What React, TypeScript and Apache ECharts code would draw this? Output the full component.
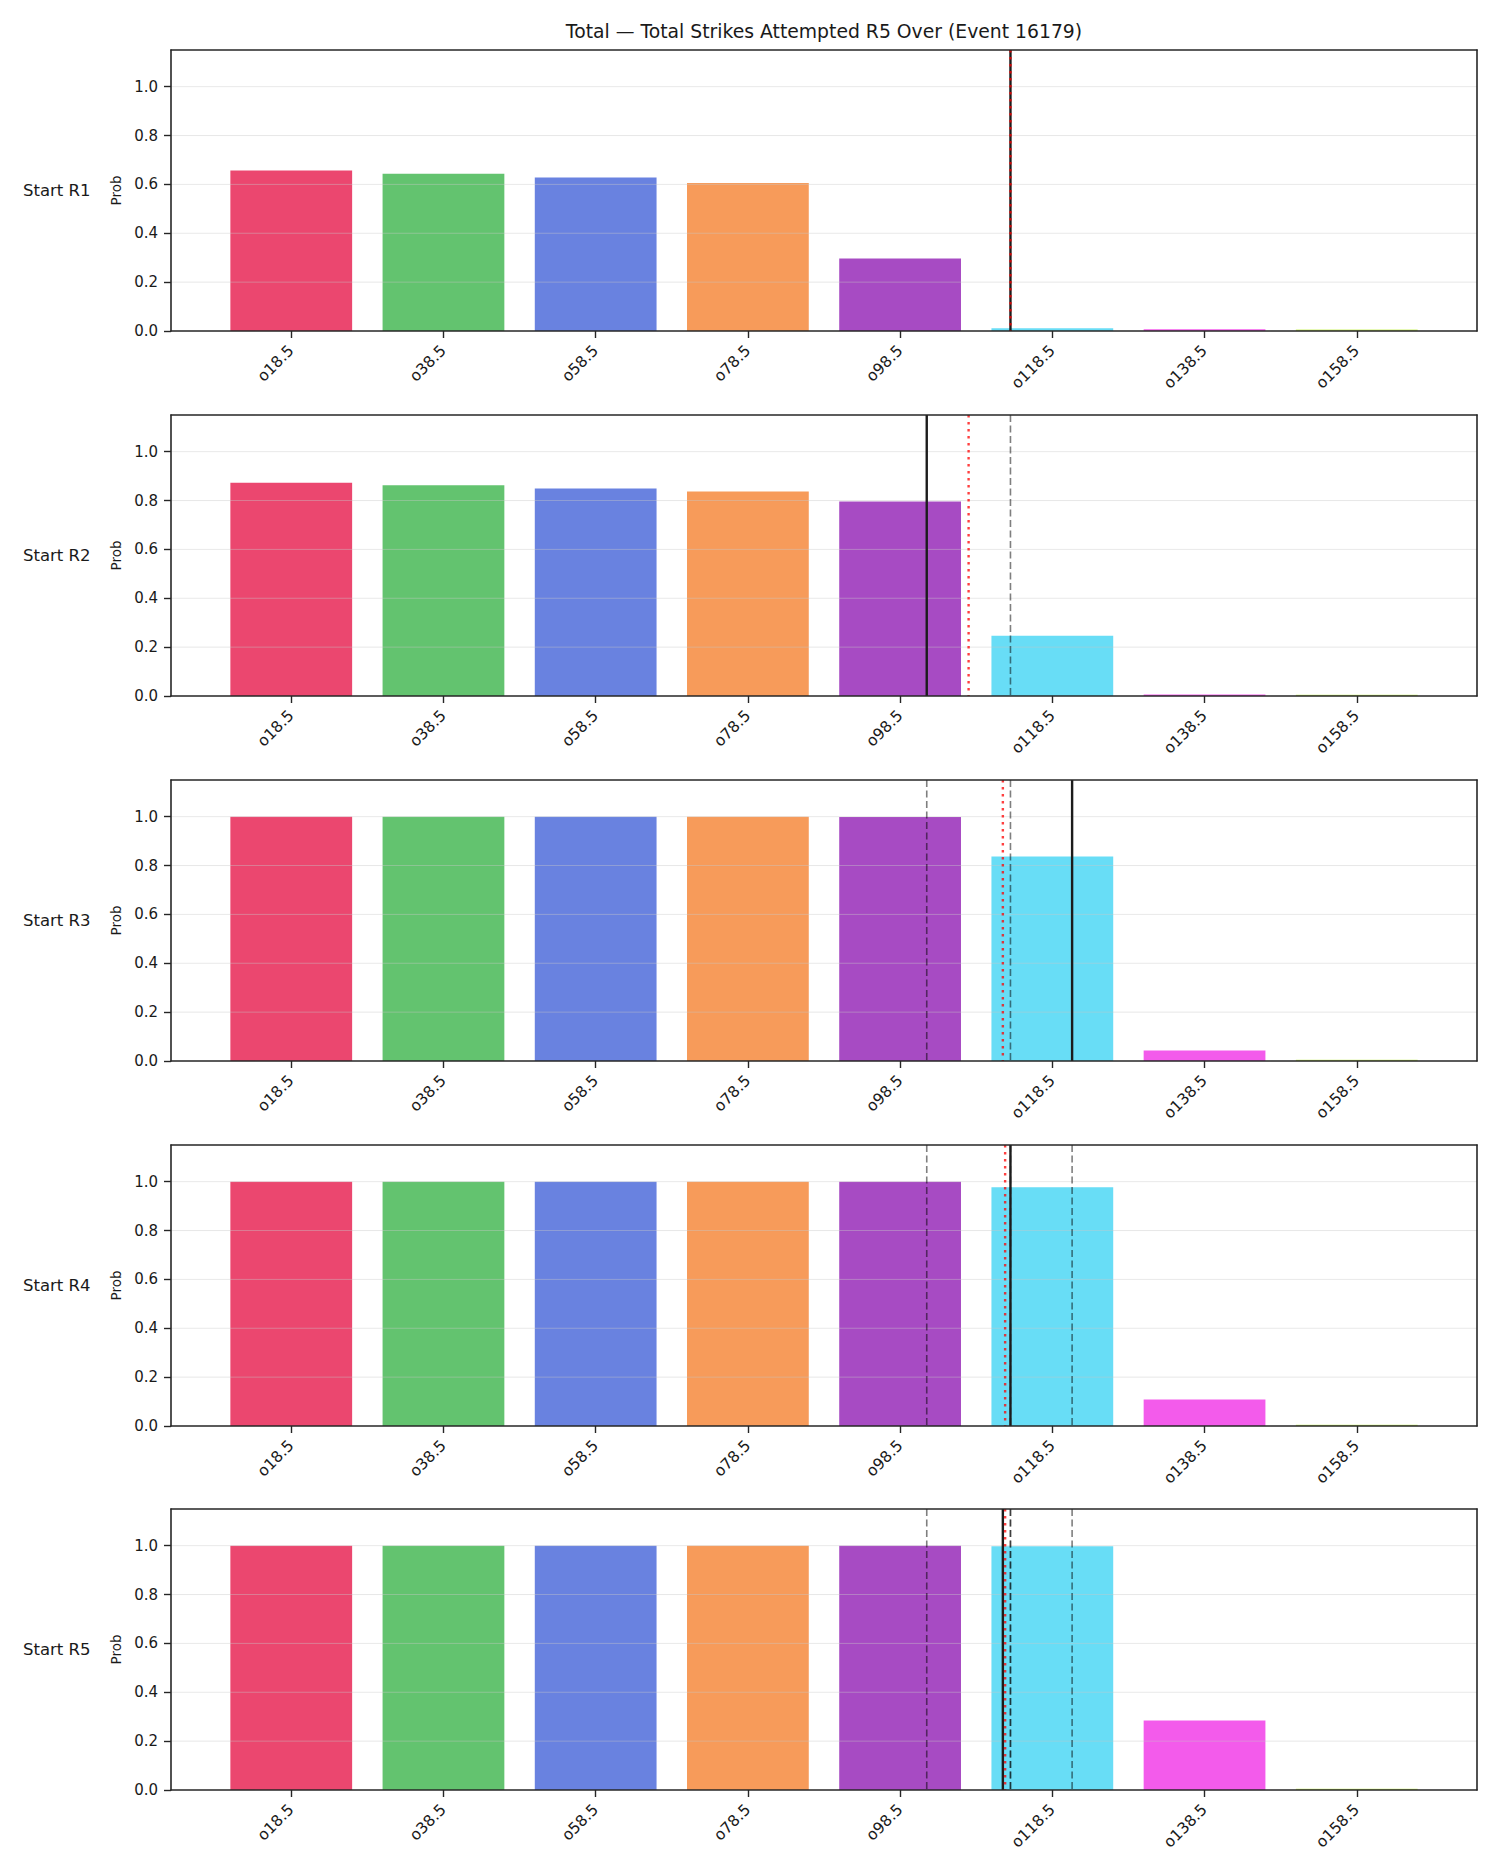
import React, { useEffect, useRef } from "react";
import * as echarts from "echarts";

// ---- data ----
const TITLE = "Total — Total Strikes Attempted R5 Over (Event 16179)";
const ROUND_LABELS = ["Start R1", "Start R2", "Start R3", "Start R4", "Start R5"];
const LINE_LABELS = ["o18.5", "o38.5", "o58.5", "o78.5", "o98.5", "o118.5", "o138.5", "o158.5"];
const LINE_VALUES = [18.5, 38.5, 58.5, 78.5, 98.5, 118.5, 138.5, 158.5];
const Y_TICKS = [0, 0.2, 0.4, 0.6, 0.8, 1.0];

const PROB_R1 = [0.657, 0.644, 0.628, 0.606, 0.297, 0.011, 0.007, 0.006];
const PROB_R2 = [0.873, 0.862, 0.849, 0.837, 0.796, 0.247, 0.006, 0.005];
const PROB_R3 = [1.0, 1.0, 1.0, 1.0, 0.999, 0.837, 0.043, 0.005];
const PROB_R4 = [1.0, 1.0, 1.0, 1.0, 1.0, 0.977, 0.108, 0.005];
const PROB_R5 = [1.0, 1.0, 1.0, 1.0, 1.0, 0.998, 0.284, 0.005];
const PROBS = [PROB_R1, PROB_R2, PROB_R3, PROB_R4, PROB_R5];

// projected total at the start of each round (solid), and the market line (dotted)
const PROJECTION = [113.0, 102.0, 121.1, 113.0, 112.0];
const MARKET_LINE = [113.0, 107.5, 112.0, 112.3, 112.3];

// ---- styling ----
const BAR_COLORS = ["#e6194B", "#3cb44b", "#4363d8", "#f58231", "#911eb4", "#42d4f4", "#f032e6", "#bfef45"];
const FONT = "DejaVu Sans";
const INK = "#1a1a1a";
const SPINE = "#262626";

const X_MIN = 2.7;
const X_MAX = 174.3;
const Y_MAX = 1.15;
const BAR_HALF = 8;

const GRID_LEFT = 171;
const GRID_RIGHT = 23;
const GRID_TOPS = [50, 415, 780, 1145, 1509];
const GRID_HEIGHT = 281;

function hexToRgba(hex: string, a: number) {
  const h = hex.replace("#", "");
  const r = parseInt(h.slice(0, 2), 16);
  const g = parseInt(h.slice(2, 4), 16);
  const b = parseInt(h.slice(4, 6), 16);
  return `rgba(${r},${g},${b},${a})`;
}

function vLineRenderer(stroke: string, lineWidth: number, lineDash: number[] | null) {
  return (params: any, api: any) => {
    const x = api.value(0);
    const top = api.coord([x, Y_MAX]);
    const bot = api.coord([x, 0]);
    return {
      type: "line",
      shape: { x1: top[0], y1: top[1], x2: bot[0], y2: bot[1] },
      style: { stroke, lineWidth, lineDash: lineDash || undefined, fill: null },
    };
  };
}

function buildOption() {
  const grid: any[] = [];
  const xAxis: any[] = [];
  const yAxis: any[] = [];
  const series: any[] = [];
  const graphic: any[] = [];

  graphic.push({
    type: "text",
    x: GRID_LEFT + (1500 - GRID_LEFT - GRID_RIGHT) / 2,
    y: 31,
    style: {
      text: TITLE,
      fill: INK,
      font: `18.8px "${FONT}"`,
      textAlign: "center",
      textVerticalAlign: "middle",
    },
  });

  PROBS.forEach((probs, i) => {
    grid.push({
      left: GRID_LEFT,
      right: GRID_RIGHT,
      top: GRID_TOPS[i],
      height: GRID_HEIGHT,
      containLabel: false,
    });

    // bottom x axis with threshold labels
    xAxis.push({
      type: "value",
      gridIndex: i,
      min: X_MIN,
      max: X_MAX,
      position: "bottom",
      z: 5,
      axisLine: { show: true, onZero: false, lineStyle: { color: SPINE, width: 1.6 } },
      axisTick: {
        show: true,
        inside: false,
        length: 7,
        customValues: LINE_VALUES,
        lineStyle: { color: SPINE, width: 1.4 },
      },
      axisLabel: {
        show: true,
        customValues: LINE_VALUES,
        rotate: 45,
        margin: 17,
        color: INK,
        fontFamily: FONT,
        fontSize: 15.5,
        formatter: (v: number) => {
          const k = LINE_VALUES.findIndex((t) => Math.abs(t - v) < 1e-6);
          return k >= 0 ? LINE_LABELS[k] : "";
        },
      },
      splitLine: { show: false },
    });
    // top spine
    xAxis.push({
      type: "value",
      gridIndex: i,
      min: X_MIN,
      max: X_MAX,
      position: "top",
      z: 5,
      axisLine: { show: true, onZero: false, lineStyle: { color: SPINE, width: 1.6 } },
      axisTick: { show: false },
      axisLabel: { show: false },
      splitLine: { show: false },
    });

    yAxis.push({
      type: "value",
      gridIndex: i,
      min: 0,
      max: Y_MAX,
      position: "left",
      z: 5,
      name: "Prob",
      nameLocation: "middle",
      nameGap: 47,
      nameRotate: 90,
      nameTextStyle: { color: INK, fontFamily: FONT, fontSize: 13.5 },
      axisLine: { show: true, onZero: false, lineStyle: { color: SPINE, width: 1.6 } },
      axisTick: {
        show: true,
        inside: false,
        length: 7,
        customValues: Y_TICKS,
        lineStyle: { color: SPINE, width: 1.4 },
      },
      axisLabel: {
        show: true,
        customValues: Y_TICKS,
        margin: 13,
        color: INK,
        fontFamily: FONT,
        fontSize: 15,
        formatter: (v: number) => v.toFixed(1),
      },
      splitLine: { show: false },
    });
    // right spine
    yAxis.push({
      type: "value",
      gridIndex: i,
      min: 0,
      max: Y_MAX,
      position: "right",
      z: 5,
      axisLine: { show: true, onZero: false, lineStyle: { color: SPINE, width: 1.6 } },
      axisTick: { show: false },
      axisLabel: { show: false },
      splitLine: { show: false },
    });

    const xIdx = 2 * i;
    const yIdx = 2 * i;

    // bars
    series.push({
      type: "custom",
      xAxisIndex: xIdx,
      yAxisIndex: yIdx,
      z: 2,
      data: LINE_VALUES.map((t, k) => [t, probs[k], k]),
      renderItem: (params: any, api: any) => {
        const x = api.value(0);
        const y = api.value(1);
        const k = api.value(2);
        const p0 = api.coord([x - BAR_HALF, y]);
        const p1 = api.coord([x + BAR_HALF, 0]);
        return {
          type: "rect",
          shape: { x: p0[0], y: p0[1], width: p1[0] - p0[0], height: p1[1] - p0[1] },
          style: { fill: hexToRgba(BAR_COLORS[k], 0.8) },
        };
      },
    });

    // horizontal grid lines, drawn above the bars
    series.push({
      type: "custom",
      xAxisIndex: xIdx,
      yAxisIndex: yIdx,
      z: 3,
      silent: true,
      data: Y_TICKS.filter((v) => v > 0).map((v) => [X_MIN, v]),
      renderItem: (params: any, api: any) => {
        const v = api.value(1);
        const a = api.coord([X_MIN, v]);
        const b = api.coord([X_MAX, v]);
        return {
          type: "line",
          shape: { x1: a[0], y1: a[1], x2: b[0], y2: b[1] },
          style: { stroke: "rgba(200,200,200,0.42)", lineWidth: 1, fill: null },
        };
      },
    });

    // earlier rounds' projections (dashed)
    const previous = PROJECTION.slice(0, i);
    if (previous.length) {
      series.push({
        type: "custom",
        xAxisIndex: xIdx,
        yAxisIndex: yIdx,
        z: 4,
        silent: true,
        data: previous.map((v) => [v, 0]),
        renderItem: vLineRenderer("rgba(0,0,0,0.5)", 1.6, [7, 3.5]),
      });
    }

    // this round's projection (solid)
    series.push({
      type: "custom",
      xAxisIndex: xIdx,
      yAxisIndex: yIdx,
      z: 4,
      silent: true,
      data: [[PROJECTION[i], 0]],
      renderItem: vLineRenderer("#1c1c1c", 2.4, null),
    });

    // market line (dotted red)
    series.push({
      type: "custom",
      xAxisIndex: xIdx,
      yAxisIndex: yIdx,
      z: 4,
      silent: true,
      data: [[MARKET_LINE[i], 0]],
      renderItem: vLineRenderer("rgba(255,0,0,0.75)", 2.4, [2.5, 4.5]),
    });

    graphic.push({
      type: "text",
      x: 23,
      y: GRID_TOPS[i] + GRID_HEIGHT / 2,
      style: {
        text: ROUND_LABELS[i],
        fill: INK,
        font: `16.5px "${FONT}"`,
        textAlign: "left",
        textVerticalAlign: "middle",
      },
    });
  });

  return {
    animation: false,
    backgroundColor: "#ffffff",
    textStyle: { fontFamily: FONT },
    grid,
    xAxis,
    yAxis,
    series,
    graphic,
  };
}

export default function App() {
  const ref = useRef<HTMLDivElement>(null);

  useEffect(() => {
    if (!ref.current) return;
    const chart = echarts.init(ref.current, undefined, { renderer: "svg" });
    chart.setOption(buildOption() as any);
    return () => chart.dispose();
  }, []);

  return (
    <div
      ref={ref}
      style={{
        position: "absolute",
        left: 0,
        top: 0,
        width: 1500,
        height: 1875,
        background: "#ffffff",
      }}
    />
  );
}
